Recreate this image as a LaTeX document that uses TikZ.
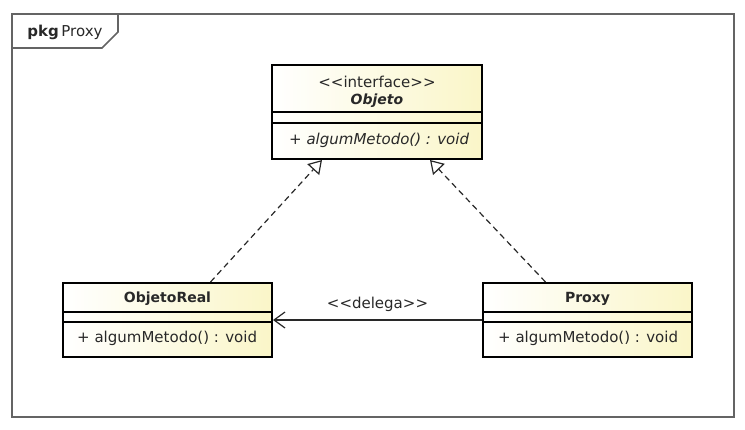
\documentclass[tikz,border=0pt]{standalone}
\usepackage{fontspec}
\setmainfont{DejaVu Sans}[Ligatures=TeXOff]
\usetikzlibrary{positioning,arrows.meta,calc}
\definecolor{classyellow}{RGB}{250,246,200}
\definecolor{framegray}{RGB}{100,100,100}
\definecolor{textgray}{RGB}{40,40,40}

\begin{document}
\begin{tikzpicture}[x=1pt, y=-1pt]
    % Define styles
    \tikzstyle{umlclass} = [rectangle, draw=black, line width=2pt, left color=white, right color=classyellow, inner sep=0pt]
    \tikzstyle{classname} = [font=\fontsize{14}{16}\selectfont\bfseries, text=textgray, inner sep=0pt]
    \tikzstyle{member} = [font=\fontsize{15}{18}\selectfont, text=textgray, inner sep=0pt, anchor=west]
    \tikzstyle{compline} = [line width=1.2pt]
    \tikzstyle{realize} = [dash pattern=on 6pt off 4pt, line width=1.2pt, draw=textgray, -{Triangle[open, fill=white, length=13pt, width=16pt]}]
    \tikzstyle{assoc} = [line width=1.2pt, draw=textgray, -{Straight Barb[length=11pt, width=16pt]}]

    \useasboundingbox (0,0) rectangle (745,429);

    % Package frame
    \draw[framegray, line width=1.6pt] (12,14) rectangle (734,417);
    \draw[framegray, line width=1.6pt] (12,48) -- (102,48) -- (118,32) -- (118,14);
    \node[font=\fontsize{15}{18}\selectfont, text=textgray, inner sep=0pt] (pkg) at (65,32) {\textbf{pkg}\,Proxy};

    % Classes
    \node[umlclass, minimum width=210pt, minimum height=94pt] (objeto) at (377,112) {};
    \node[umlclass, minimum width=209pt, minimum height=74pt] (objetoreal) at (167.5,320) {};
    \node[umlclass, minimum width=209pt, minimum height=74pt] (proxy) at (587.5,320) {};

    % Compartments
    \draw[compline] ([yshift=-48pt]objeto.north west) -- ([yshift=-48pt]objeto.north east);
    \draw[compline] ([yshift=-59pt]objeto.north west) -- ([yshift=-59pt]objeto.north east);
    \draw[compline] ([yshift=-30pt]objetoreal.north west) -- ([yshift=-30pt]objetoreal.north east);
    \draw[compline] ([yshift=-40pt]objetoreal.north west) -- ([yshift=-40pt]objetoreal.north east);
    \draw[compline] ([yshift=-30pt]proxy.north west) -- ([yshift=-30pt]proxy.north east);
    \draw[compline] ([yshift=-40pt]proxy.north west) -- ([yshift=-40pt]proxy.north east);

    % Texts
    \node[font=\fontsize{15}{18}\selectfont, text=textgray, inner sep=0pt] (stereo) at (377,82) {<<interface>>};
    \node[classname, font=\fontsize{14}{16}\selectfont\bfseries\itshape] (objetoname) at (377,101) {Objeto};
    \node[member, font=\fontsize{15}{18}\selectfont\itshape] (objetoop) at (289,140) {+ algumMetodo() : void};
    \node[classname] (objetorealname) at (167.5,299) {ObjetoReal};
    \node[member] (objetorealop) at (77,338) {+ algumMetodo() : void};
    \node[classname] (proxyname) at (587.5,299) {Proxy};
    \node[member] (proxyop) at (498,338) {+ algumMetodo() : void};

    % Arrows
    \draw[realize] ([xshift=43pt]objetoreal.north) -- ([xshift=-55pt]objeto.south);
    \draw[realize] ([xshift=-42pt]proxy.north) -- ([xshift=53pt]objeto.south);
    \draw[assoc] (proxy.west) -- node[midway, yshift=16pt, font=\fontsize{15}{18}\selectfont, text=textgray] (delega) {<<delega>>} (objetoreal.east);
\end{tikzpicture}
\end{document}
